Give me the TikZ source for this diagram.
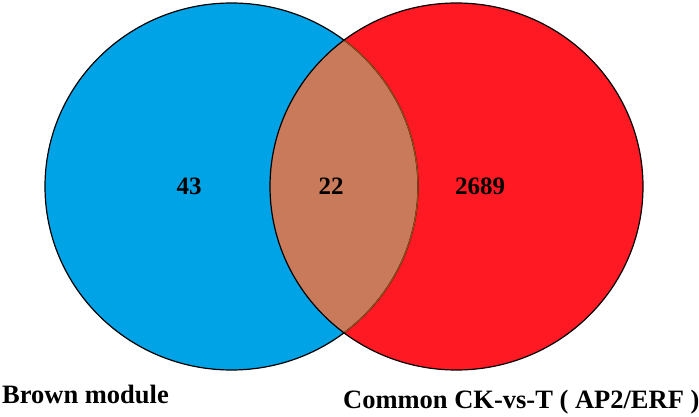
\documentclass[tikz,border=0pt]{standalone}
\usepackage{fontspec}
\setmainfont{Liberation Serif}
\definecolor{setblue}{RGB}{0,163,230}
\definecolor{setred}{RGB}{255,25,35}
\definecolor{overlapc}{RGB}{201,122,90}
\definecolor{overlapedge}{RGB}{150,75,25}
\tikzset{
  numlabel/.style={font=\fontsize{25}{30}\selectfont\bfseries, inner sep=0pt},
  setlabel/.style={font=\fontsize{26.5}{32}\selectfont\bfseries, inner sep=0pt, anchor=base west},
  outline/.style={draw=black, line width=1.2pt}
}
\begin{document}
\begin{tikzpicture}[x=1pt,y=-1pt]
\useasboundingbox[fill=white] (0,0) rectangle (699,417);
% set regions
\fill[setblue] (231.5,186.5) ellipse [x radius=186.5, y radius=183.5];
\fill[setred] (456.5,186.5) ellipse [x radius=186.5, y radius=183.5];
\begin{scope}
  \clip (231.5,186.5) ellipse [x radius=186.5, y radius=183.5];
  \fill[overlapc] (456.5,186.5) ellipse [x radius=186.5, y radius=183.5];
\end{scope}
% outlines
\draw[outline] (456.5,186.5) ellipse [x radius=186.5, y radius=183.5];
\draw[outline] (231.5,186.5) ellipse [x radius=186.5, y radius=183.5];
\begin{scope}
  \clip (456.5,186.5) ellipse [x radius=185.8, y radius=182.8];
  \draw[draw=overlapedge, line width=1.2pt] (231.5,186.5) ellipse [x radius=186.5, y radius=183.5];
\end{scope}
% counts
\node[numlabel] (nbrown) at (189,186) {43};
\node[numlabel] (nboth) at (331,186) {22};
\node[numlabel] (ncommon) at (480,186) {2689};
% set names
\node[setlabel] (lbrown) at (2,403) {Brown module};
\node[setlabel] (lcommon) at (343,408) {Common CK-vs-T ( AP2/ERF )};
\end{tikzpicture}
\end{document}
